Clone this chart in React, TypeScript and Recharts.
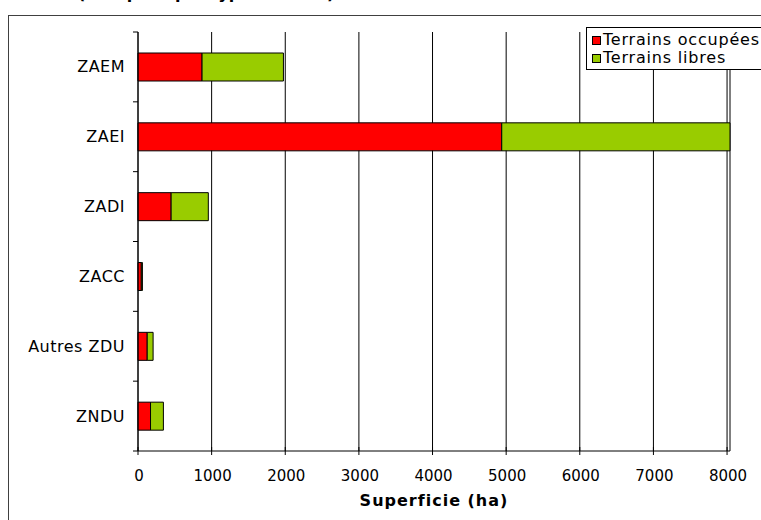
import React from "react";
import {
  BarChart,
  Bar,
  XAxis,
  YAxis,
  CartesianGrid,
} from "recharts";

// Zones and land use, in hectares
const zones = ["ZAEM", "ZAEI", "ZADI", "ZACC", "Autres ZDU", "ZNDU"];
const occupees = [870, 4940, 450, 45, 125, 170];
const libres = [1105, 3100, 505, 15, 80, 175];
const xTicks = [0, 1000, 2000, 3000, 4000, 5000, 6000, 7000, 8000];
const seriesNames = ["Terrains occupées", "Terrains libres"];

const RED = "#FF0000";
const GREEN = "#99CC00";
const FONT = "'DejaVu Sans', Verdana, sans-serif";

const data = zones.map((zone, i) => ({
  zone,
  occupees: occupees[i],
  libres: libres[i],
}));

const CHART_W = 761;
const CHART_H = 520;
const TOP = 32;
const BOTTOM_AXIS = 451;
const BAND = (BOTTOM_AXIS - TOP) / zones.length;

// category label plus tick marks on the band boundaries
function ZoneTick(props: any) {
  const { x, y, payload, index } = props;
  const last = index === zones.length - 1;
  return (
    <g>
      <text
        x={x - 13}
        y={y}
        textAnchor="end"
        dominantBaseline="central"
        fontSize={16}
        letterSpacing={0.5}
        fontFamily={FONT}
        fill="#000"
      >
        {payload.value}
      </text>
      <line x1={x - 5} x2={x} y1={y - BAND / 2} y2={y - BAND / 2} stroke="#000" />
      {last && (
        <line x1={x - 5} x2={x} y1={y + BAND / 2} y2={y + BAND / 2} stroke="#000" />
      )}
    </g>
  );
}

// x tick: mark crossing the axis line, value underneath
function ValueTick(props: any) {
  const { x, payload } = props;
  return (
    <g>
      <line x1={x} x2={x} y1={BOTTOM_AXIS - 4} y2={BOTTOM_AXIS + 4} stroke="#000" />
      <text
        x={x + 1}
        y={BOTTOM_AXIS + 30}
        textAnchor="middle"
        fontSize={15}
        fontFamily={FONT}
        fill="#000"
      >
        {payload.value}
      </text>
    </g>
  );
}

function LegendBox() {
  const colors = [RED, GREEN];
  return (
    <div
      style={{
        position: "absolute",
        left: 586,
        top: 27,
        width: 200,
        border: "1px solid #000",
        background: "#fff",
        padding: "3px 0 2px 5px",
        fontFamily: FONT,
        fontSize: 16,
        letterSpacing: 0.8,
        lineHeight: "18px",
        whiteSpace: "nowrap",
      }}
    >
      {seriesNames.map((name, i) => (
        <div key={name} style={{ display: "flex", alignItems: "center" }}>
          <span
            style={{
              display: "inline-block",
              width: 7,
              height: 7,
              background: colors[i],
              border: "1px solid #000",
              marginRight: 2,
            }}
          />
          <span>{name}</span>
        </div>
      ))}
    </div>
  );
}

export default function App() {
  return (
    <div
      style={{
        position: "absolute",
        left: 0,
        top: 0,
        width: CHART_W,
        height: CHART_H,
        overflow: "hidden",
        background: "#fff",
      }}
    >
      <div
        style={{
          position: "absolute",
          left: 78,
          top: -16,
          fontFamily: FONT,
          fontWeight: "bold",
          fontSize: 16,
          whiteSpace: "nowrap",
        }}
      >
        (occupées par type de zone)
      </div>
      <div
        style={{
          position: "absolute",
          left: 8,
          top: 15,
          width: 800,
          height: 600,
          border: "1px solid #404040",
        }}
      />
      <div style={{ position: "absolute", left: 0, top: 0 }}>
        <BarChart
          width={CHART_W}
          height={CHART_H}
          data={data}
          layout="vertical"
          barSize={28}
          margin={{ top: TOP, right: 31, bottom: 29, left: 0 }}
        >
          <CartesianGrid horizontal={false} stroke="#000" strokeWidth={1} />
          <XAxis
            type="number"
            domain={[0, 8000]}
            ticks={xTicks}
            height={40}
            axisLine={{ stroke: "#000" }}
            tickLine={false}
            tick={<ValueTick />}
            label={{
              value: "Superficie (ha)",
              position: "bottom",
              offset: 4,
              style: {
                fontSize: 16,
                fontWeight: "bold",
                letterSpacing: 1,
                fontFamily: FONT,
                fill: "#000",
              },
            }}
          />
          <YAxis
            type="category"
            dataKey="zone"
            width={138}
            axisLine={{ stroke: "#000" }}
            tickLine={false}
            tickSize={0}
            tickMargin={0}
            tick={<ZoneTick />}
            interval={0}
          />
          <Bar
            dataKey="occupees"
            name={seriesNames[0]}
            stackId="a"
            fill={RED}
            stroke="#000"
            strokeWidth={1}
            isAnimationActive={false}
          />
          <Bar
            dataKey="libres"
            name={seriesNames[1]}
            stackId="a"
            fill={GREEN}
            stroke="#000"
            strokeWidth={1}
            isAnimationActive={false}
          />
        </BarChart>
      </div>
      <LegendBox />
    </div>
  );
}
